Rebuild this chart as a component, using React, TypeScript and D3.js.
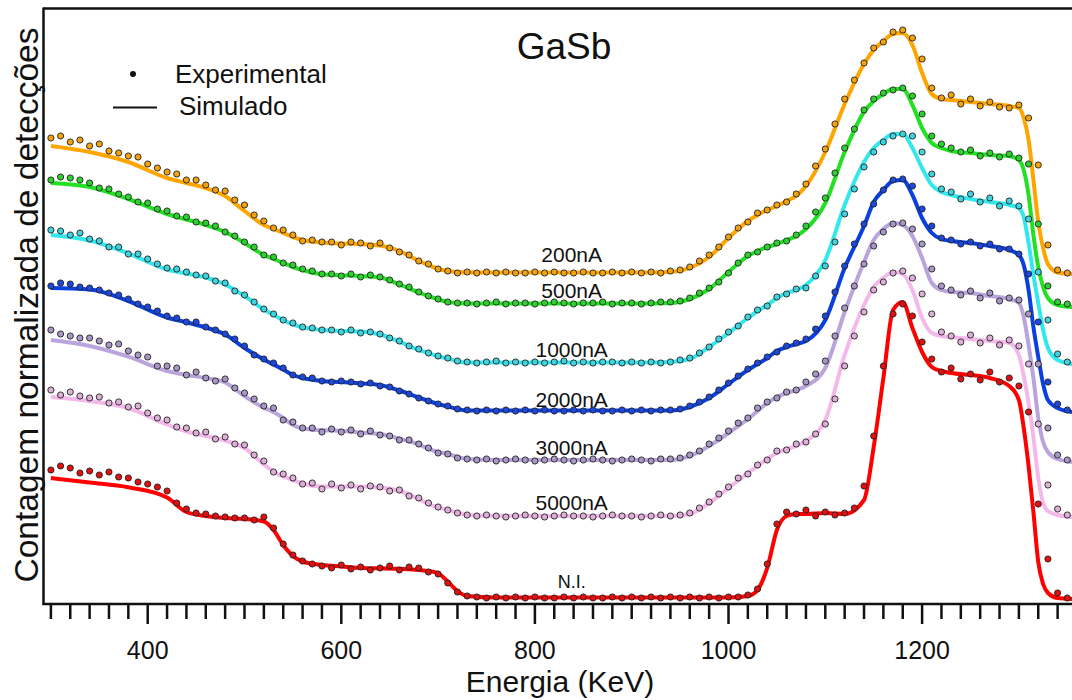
import React from 'react';
import * as d3 from 'd3';

// Energy grid for simulated curves (keV)
const simE = [300, 340, 380, 420, 440, 460, 480, 500, 520, 530,
  540, 550, 560, 580, 600, 620, 640, 660, 680, 690,
  700, 710, 720, 730, 760, 800, 850, 900, 940, 960,
  980, 1000, 1020, 1030, 1040, 1050, 1060, 1070, 1080, 1100,
  1120, 1140, 1150, 1160, 1170, 1180, 1190, 1200, 1210, 1220,
  1230, 1250, 1270, 1290, 1300, 1305, 1310, 1315, 1320, 1325,
  1330, 1340, 1355];

// Energy grid for experimental points (keV)
const expE = d3.range(300, 1351, 10);

// Simulated (offset, normalized counts)
const sim200 = [458, 452, 442, 426, 421, 416, 408, 393, 379, 375,
  371, 367, 364, 361.5, 360.5, 360, 358.5, 353, 343, 339,
  335, 333, 332, 331.5, 331.5, 331.5, 331.5, 331.5, 332, 336,
  347, 366, 383, 389, 394, 398, 403, 408, 418, 452,
  500, 540, 554, 563, 570, 571, 559, 531, 510, 505,
  504, 502, 500, 498, 496, 486, 464, 424, 382, 356,
  340, 331.5, 330];
const sim500 = [421, 417, 405, 390, 384.5, 379, 372, 361, 349, 345,
  341, 337, 334, 329.7, 328.7, 328, 326.5, 319.5, 311.5, 308,
  304.5, 302, 301, 300.5, 300.5, 300.5, 300.5, 300.5, 301, 305,
  315, 332, 348, 353, 357, 360, 364, 368, 375, 401,
  452, 492, 503, 510, 515, 515, 499, 476, 461, 456,
  453, 451, 449, 448, 444, 434, 409, 369, 337, 317,
  306, 299, 297];
const sim1000 = [369, 363.5, 350.7, 334.5, 330.5, 326.5, 319.5, 308, 294.5, 289,
  284, 279.5, 276.7, 274, 273, 272.5, 269.5, 262.3, 254, 251,
  247.5, 245.5, 242.5, 241.5, 241.5, 241.5, 241.5, 241.5, 242, 245,
  257, 271, 286, 293, 299, 306, 311, 314, 319, 344,
  399, 442, 456, 464, 470, 470, 456, 436, 419, 412,
  409, 405, 402, 399, 396, 387, 361, 329, 301, 274,
  256, 244, 240];
const sim2000 = [316, 314.5, 303, 286.5, 281.7, 276.5, 269.5, 256, 244.5, 239.5,
  234.5, 229, 226, 223, 222, 220.7, 219, 213.5, 206.5, 203,
  200, 197.5, 195, 193.5, 193.5, 193.5, 193.5, 193.5, 193.5, 197,
  206, 220, 234, 240, 246, 253, 257, 260, 263, 284,
  336, 378, 402, 414, 423, 424, 409, 386, 371, 365,
  363, 361, 358, 354, 349, 339, 314, 277, 247, 220,
  204, 196, 192];
const sim3000 = [264, 258, 247.3, 233, 229, 226, 221.5, 208, 196.3, 192,
  186, 179, 175.5, 173.7, 173.3, 171.5, 170, 165.3, 159.5, 155.3,
  152, 150, 147, 145, 144, 144, 144, 144, 144, 148,
  158, 171, 185, 193, 201, 207, 211, 214, 218, 236,
  292, 342, 364, 375, 381, 379, 368, 346, 321, 314,
  312, 311, 308, 305, 301, 287, 259, 226, 186, 162,
  152, 145, 142];
const sim5000 = [207, 203, 196, 179.5, 172.5, 168, 163.5, 156, 139.5, 132.5,
  127.5, 124, 120.5, 117.5, 117.5, 117.5, 116.5, 113, 105, 100,
  96.5, 94, 91, 89, 88, 88, 88, 88, 88, 90,
  101, 116, 131, 138, 145, 151, 155, 158, 163, 184,
  249, 299, 317, 326, 332, 330, 314, 286, 271, 268,
  267, 265, 263, 261, 249, 228, 201, 167, 126, 101,
  93, 89, 87];
const simNI = [126, 121.5, 116.7, 106.5, 92, 88, 86, 85, 82.5, 74,
  59, 48, 42.5, 39, 37.5, 36, 35.7, 35.3, 34, 33,
  30.7, 22.5, 13, 8, 6.5, 6.5, 6.5, 6.5, 6.5, 6.5,
  6.5, 6.5, 8, 14, 36, 74, 88, 90, 90, 91,
  90, 104, 157, 226, 294, 302, 276, 252, 237, 233,
  231, 229, 226, 218, 204, 176, 138, 92, 42, 20,
  11, 6, 5];

// Experimental points
const exp200 = [466, 468, 462, 464, 458, 460, 453, 451, 448, 447,
  440, 436, 432, 430, 424, 424, 419, 414, 413, 404,
  399, 389, 383, 376, 374, 369, 363, 364, 362, 362,
  359, 362, 361, 358, 361, 356, 352, 349, 343, 340,
  335, 333, 331, 332, 331, 332, 331, 332, 331, 331,
  332, 331, 332, 331, 331, 332, 331, 331, 332, 331,
  332, 331, 332, 331, 333, 334, 337, 343, 349, 357,
  367, 376, 382, 391, 394, 399, 402, 410, 420, 438,
  455, 480, 505, 524, 541, 556, 562, 572, 574, 566,
  545, 516, 506, 509, 500, 505, 498, 502, 497, 496,
  499, 486, 439, 359, 334, 331];
const exp500 = [424, 427, 426, 424, 421, 416, 415, 410, 407, 402,
  401, 395, 393, 388, 387, 382, 381, 378, 372, 368,
  362, 357, 349, 347, 341, 339, 335, 333, 330, 330,
  328, 330, 327, 329, 327, 324, 320, 317, 312, 308,
  305, 302, 301, 301, 300, 301, 302, 300, 301, 301,
  300, 301, 302, 301, 300, 301, 301, 302, 300, 301,
  301, 300, 301, 302, 302, 303, 306, 311, 316, 322,
  331, 341, 349, 352, 357, 361, 363, 369, 378, 392,
  406, 431, 456, 475, 494, 505, 511, 514, 516, 508,
  490, 468, 460, 456, 452, 454, 448, 451, 447, 450,
  446, 440, 380, 318, 302, 300];
const exp1000 = [374, 373, 369, 371, 365, 363, 357, 357, 350, 350,
  345, 340, 336, 335, 332, 329, 328, 323, 321, 313,
  309, 302, 295, 290, 284, 281, 277, 276, 274, 274,
  272, 274, 271, 272, 270, 266, 263, 258, 255, 251,
  248, 246, 243, 242, 241, 242, 243, 241, 242, 241,
  242, 241, 242, 243, 241, 242, 241, 242, 242, 241,
  242, 241, 242, 241, 242, 244, 246, 251, 257, 265,
  272, 278, 287, 294, 298, 307, 310, 315, 316, 328,
  338, 362, 390, 415, 437, 452, 462, 468, 470, 468,
  452, 430, 415, 412, 405, 410, 402, 406, 398, 403,
  398, 385, 332, 284, 250, 242];
const exp2000 = [318, 321, 320, 317, 316, 314, 311, 309, 305, 300,
  297, 293, 288, 286, 282, 282, 277, 274, 270, 265,
  258, 249, 245, 241, 236, 229, 227, 226, 223, 222,
  223, 222, 220, 221, 218, 217, 213, 210, 206, 203,
  200, 198, 195, 194, 193, 194, 193, 194, 193, 194,
  193, 194, 193, 193, 194, 193, 194, 193, 193, 194,
  193, 194, 193, 194, 194, 195, 198, 202, 207, 214,
  221, 228, 235, 241, 247, 252, 258, 261, 265, 275,
  288, 312, 338, 360, 380, 400, 414, 424, 425, 418,
  395, 378, 366, 364, 360, 362, 358, 360, 355, 355,
  350, 330, 282, 222, 200, 194];
const exp3000 = [274, 270, 268, 266, 266, 263, 259, 260, 253, 249,
  247, 238, 238, 236, 229, 232, 226, 223, 225, 216,
  211, 205, 198, 196, 184, 182, 176, 176, 172, 175,
  172, 174, 170, 173, 169, 168, 164, 164, 160, 156,
  151, 150, 146, 145, 144, 145, 143, 144, 145, 144,
  143, 144, 145, 144, 143, 144, 145, 144, 143, 144,
  145, 144, 143, 145, 145, 146, 149, 153, 160, 166,
  173, 181, 186, 196, 202, 206, 212, 214, 222, 230,
  243, 268, 296, 318, 340, 358, 372, 380, 381, 375,
  360, 335, 318, 314, 309, 313, 306, 311, 303, 306,
  304, 290, 240, 176, 149, 144];
const exp5000 = [214, 209, 212, 208, 206, 207, 201, 202, 197, 198,
  191, 186, 184, 177, 176, 171, 172, 165, 167, 160,
  159, 149, 143, 132, 130, 126, 120, 121, 115, 120,
  116, 119, 115, 118, 117, 113, 114, 108, 106, 101,
  97, 94, 91, 89, 88, 89, 88, 87, 88, 89,
  88, 87, 88, 89, 88, 88, 87, 88, 89, 88,
  88, 87, 88, 89, 88, 89, 91, 96, 102, 110,
  117, 126, 130, 139, 144, 153, 154, 160, 162, 170,
  180, 205, 238, 268, 292, 314, 322, 331, 333, 326,
  310, 290, 272, 268, 262, 269, 261, 266, 259, 264,
  258, 240, 180, 119, 95, 89];
const expNI = [134, 138, 136, 131, 133, 129, 132, 127, 126, 122,
  120, 117, 113, 101, 95, 91, 90, 88, 87, 86,
  86, 84, 87, 76, 60, 49, 43, 40, 38, 36,
  39, 35, 37, 34, 36, 38, 34, 37, 36, 32,
  30, 21, 12, 8, 7, 6, 7, 6, 7, 6,
  7, 6, 6, 7, 6, 7, 6, 6, 7, 6,
  7, 6, 7, 6, 7, 6, 7, 6, 7, 6,
  7, 7, 9, 15, 40, 80, 92, 90, 94, 88,
  92, 89, 91, 96, 118, 168, 238, 290, 300, 288,
  262, 245, 232, 236, 225, 230, 224, 232, 222, 226,
  218, 192, 100, 45, 11, 6];

const seriesLabels = ['200nA', '500nA', '1000nA', '2000nA', '3000nA', '5000nA', 'N.I.'];
const simSeries = [sim200, sim500, sim1000, sim2000, sim3000, sim5000, simNI];
const expSeries = [exp200, exp500, exp1000, exp2000, exp3000, exp5000, expNI];

const majorTicks = [400, 600, 800, 1000, 1200];
const minorTicks = d3.range(300, 1341, 20);

// styles
const lineColors = ['#ffa500', '#22e022', '#33e8ec', '#0a3fe0', '#b9a4dd', '#f5b8ea', '#ff0000'];
const dotColors = ['#f2a20c', '#2fcf2f', '#3fd3df', '#1c49dc', '#a897c4', '#ddb0d8', '#e01010'];
const labelY = [262, 298, 357, 407, 455, 510, 588];
const labelSize = [21, 21, 21, 21, 21, 21, 18];

const FONT = '"Liberation Sans", Arial, Helvetica, sans-serif';

export default function App() {
  const W = 1072;
  const H = 700;
  const left = 43.5;
  const top = 8.5;
  const bottom = 604;
  const x = d3.scaleLinear().domain([300, 1350]).range([50.9, 1067.3]);
  const y = d3.scaleLinear().domain([0, 596]).range([604, 8]);
  const line = d3
    .line<number>()
    .x((_, i) => x(simE[i]))
    .y((d) => y(d))
    .curve(d3.curveMonotoneX);

  return (
    <svg
      width={W}
      height={H}
      style={{ position: 'absolute', left: 0, top: 0, background: '#fff' }}
      fontFamily={FONT}
    >
      <defs>
        <clipPath id="plot">
          <rect x={left} y={top} width={W - left} height={bottom - top} />
        </clipPath>
      </defs>
      <rect x={0} y={0} width={W} height={H} fill="#fff" />
      <g clipPath="url(#plot)">
        {simSeries.map((s, k) => (
          <path
            key={'l' + k}
            d={line(s) || ''}
            fill="none"
            stroke={lineColors[k]}
            strokeWidth={4}
            strokeLinejoin="round"
          />
        ))}
        {expSeries.map((s, k) => (
          <g key={'p' + k}>
            {s.map((v, i) => (
              <circle
                key={i}
                cx={x(expE[i])}
                cy={y(v)}
                r={3.1}
                fill={dotColors[k]}
                stroke="#222"
                strokeWidth={0.9}
              />
            ))}
          </g>
        ))}
      </g>
      {/* series labels */}
      {seriesLabels.map((t, k) => (
        <text
          key={'t' + k}
          x={x(838)}
          y={labelY[k]}
          textAnchor="middle"
          fontSize={labelSize[k]}
          fill="#111"
        >
          {t}
        </text>
      ))}
      {/* frame */}
      <line x1={left} y1={top} x2={W} y2={top} stroke="#111" strokeWidth={2.5} />
      <line x1={left} y1={top - 1} x2={left} y2={bottom + 1} stroke="#111" strokeWidth={2.5} />
      <line x1={left - 1} y1={bottom} x2={W} y2={bottom} stroke="#111" strokeWidth={2.5} />
      {/* ticks */}
      {minorTicks.map((t) => (
        <line
          key={'m' + t}
          x1={x(t)}
          x2={x(t)}
          y1={bottom}
          y2={majorTicks.includes(t) ? bottom + 20 : bottom + 15}
          stroke="#111"
          strokeWidth={2.5}
        />
      ))}
      {majorTicks.map((t) => (
        <text key={'tl' + t} x={x(t)} y={659} textAnchor="middle" fontSize={25} fill="#111">
          {t}
        </text>
      ))}
      <text x={560} y={692} textAnchor="middle" fontSize={30} fill="#111">
        Energia (KeV)
      </text>
      <text
        transform="translate(38,305) rotate(-90)"
        textAnchor="middle"
        fontSize={33.5}
        fill="#111"
      >
        Contagem normalizada de detecções
      </text>
      <text x={564} y={59} textAnchor="middle" fontSize={37} fill="#111">
        GaSb
      </text>
      {/* legend */}
      <circle cx={133} cy={74} r={3} fill="#111" />
      <text x={175} y={83} fontSize={26} fill="#111">
        Experimental
      </text>
      <line x1={113} x2={157} y1={107.5} y2={107.5} stroke="#111" strokeWidth={2} />
      <text x={179} y={115} fontSize={26} fill="#111">
        Simulado
      </text>
    </svg>
  );
}
